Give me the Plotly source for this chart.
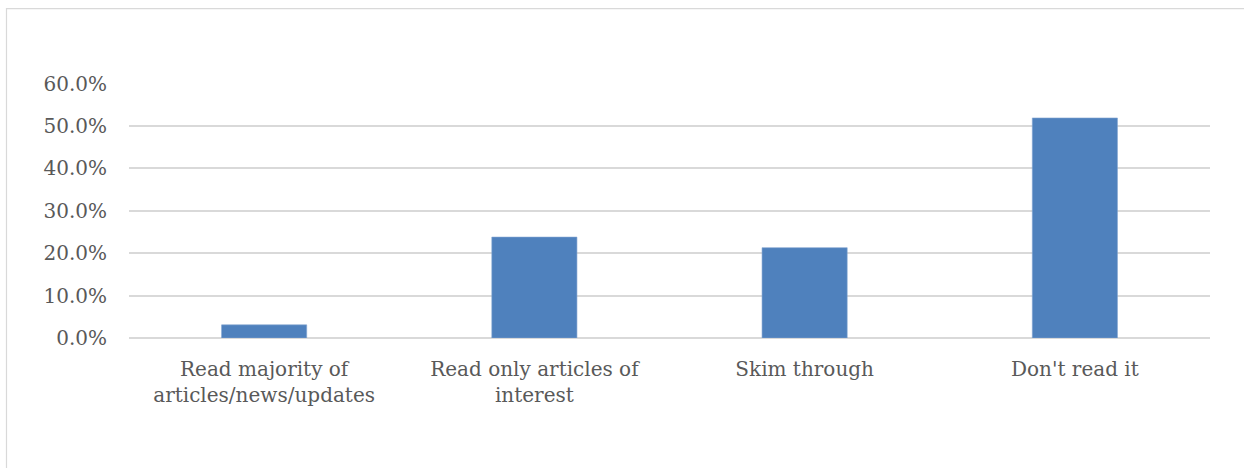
import plotly.graph_objects as go

categories = [
    "Read majority of<br>articles/news/updates",
    "Read only articles of<br>interest",
    "Skim through",
    "Don't read it",
]
shares = [0.031, 0.238, 0.213, 0.519]
y_ticks = [0.0, 0.1, 0.2, 0.3, 0.4, 0.5, 0.6]

W, H = 1244, 468
Y_MAX = 0.6015
px_per_unit = 254.5 / 0.6
L, R, B = 129, 34, 130
T = H - B - px_per_unit * Y_MAX
pw, ph = W - L - R, H - T - B

fig = go.Figure(
    go.Bar(
        x=categories,
        y=shares,
        marker=dict(color="#4f81bd", line=dict(color="#7fa3d0", width=0.6)),
        width=0.315,
    )
)

text_font = dict(family="DejaVu Serif, Liberation Serif, serif", size=20, color="#595959")

fig.update_layout(
    width=W,
    height=H,
    margin=dict(l=L, r=R, t=T, b=B),
    paper_bgcolor="white",
    plot_bgcolor="white",
    showlegend=False,
    font=text_font,
    xaxis=dict(
        showgrid=False,
        showline=False,
        ticks="",
        ticklabelstandoff=17,
        tickfont=text_font,
        fixedrange=True,
    ),
    yaxis=dict(
        range=[0, Y_MAX],
        tickvals=y_ticks,
        tickformat=".1%",
        showgrid=True,
        gridcolor="#d9d9d9",
        gridwidth=1.5,
        zeroline=True,
        zerolinecolor="#d9d9d9",
        zerolinewidth=1.5,
        showline=False,
        ticks="",
        ticklabelstandoff=21,
        tickfont=text_font,
        fixedrange=True,
    ),
)

# Outer chart frame
fig.add_shape(
    type="rect",
    xref="paper",
    yref="paper",
    x0=(6.5 - L) / pw,
    x1=(W + 5 - L) / pw,
    y0=(H - B - (H + 5)) / ph,
    y1=(H - B - 8.5) / ph,
    line=dict(color="#d9d9d9", width=1.2),
    fillcolor="rgba(0,0,0,0)",
    layer="below",
)

fig.write_html("out.html")
